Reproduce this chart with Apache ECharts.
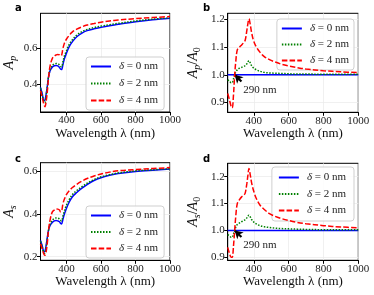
<!DOCTYPE html>
<html><head><meta charset="utf-8">
<script src="https://cdn.jsdelivr.net/npm/echarts@6/dist/echarts.min.js"></script>
<style>html,body{margin:0;padding:0;background:#fff}#c{width:374px;height:295px}</style>
</head><body><div id="c"></div>
<script>
const wavelength = [250,260,270,276,283,290,296,305,318,330,340,350,360,366,372,380,388,400,415,435,460,490,520,560,600,650,700,800,900,1000];
const deltaLabels = ['0','2','4'];
const xTicks = [400,600,800,1000];

// panel a: A_p
const apD0 = [0.385,0.35,0.312,0.315,0.35,0.394,0.44,0.475,0.495,0.503,0.505,0.502,0.494,0.485,0.482,0.51,0.54,0.57,0.605,0.635,0.662,0.682,0.695,0.705,0.713,0.722,0.73,0.744,0.755,0.763];
const apD2 = [0.38,0.345,0.305,0.302,0.34,0.39,0.44,0.48,0.505,0.513,0.515,0.514,0.508,0.5,0.497,0.525,0.555,0.585,0.618,0.646,0.671,0.69,0.702,0.712,0.72,0.728,0.735,0.748,0.758,0.765];
const apD4 = [0.367,0.33,0.29,0.279,0.31,0.367,0.43,0.5,0.542,0.556,0.562,0.565,0.563,0.557,0.56,0.598,0.625,0.648,0.668,0.688,0.703,0.716,0.726,0.734,0.741,0.748,0.753,0.761,0.767,0.772];
// panel b: A_p/A_0
const rpD0 = [1,1,1,1,1,1,1,1,1,1,1,1,1,1,1,1,1,1,1,1,1,1,1,1,1,1,1,1,1,1];
const rpD2 = [0.982,0.978,0.972,0.972,0.985,1.0,1.01,1.018,1.024,1.027,1.03,1.033,1.04,1.047,1.051,1.043,1.032,1.024,1.018,1.013,1.009,1.007,1.006,1.005,1.004,1.003,1.003,1.002,1.002,1.002];
const rpD4 = [0.933,0.91,0.886,0.881,0.925,1.0,1.045,1.09,1.1,1.108,1.115,1.124,1.16,1.185,1.202,1.18,1.15,1.12,1.1,1.082,1.066,1.055,1.047,1.038,1.032,1.026,1.021,1.015,1.011,1.008];
// panel c: A_s
const asD0 = [0.276,0.25,0.223,0.225,0.255,0.292,0.322,0.345,0.36,0.367,0.369,0.367,0.363,0.356,0.353,0.375,0.398,0.425,0.453,0.48,0.5,0.52,0.537,0.556,0.569,0.58,0.588,0.598,0.604,0.609];
const asD2 = [0.272,0.245,0.217,0.216,0.245,0.285,0.322,0.35,0.37,0.378,0.381,0.38,0.376,0.37,0.367,0.39,0.412,0.44,0.465,0.49,0.509,0.527,0.543,0.56,0.573,0.583,0.591,0.601,0.606,0.611];
const asD4 = [0.26,0.235,0.212,0.207,0.225,0.268,0.32,0.37,0.408,0.418,0.423,0.422,0.418,0.41,0.412,0.447,0.468,0.49,0.507,0.523,0.538,0.553,0.565,0.577,0.586,0.595,0.601,0.607,0.612,0.616];
// panel d: A_s/A_0
const rsD0 = [1,1,1,1,1,1,1,1,1,1,1,1,1,1,1,1,1,1,1,1,1,1,1,1,1,1,1,1,1,1];
const rsD2 = [0.985,0.98,0.975,0.975,0.987,1.0,1.012,1.022,1.028,1.033,1.036,1.04,1.047,1.053,1.057,1.05,1.04,1.031,1.024,1.018,1.014,1.011,1.009,1.007,1.006,1.005,1.004,1.003,1.003,1.003];
const rsD4 = [0.937,0.915,0.9,0.9,0.94,1.0,1.05,1.1,1.115,1.125,1.13,1.138,1.175,1.205,1.231,1.205,1.175,1.145,1.118,1.095,1.078,1.063,1.053,1.044,1.037,1.03,1.025,1.018,1.013,1.01];

const yTicksA = [0.4,0.6], yTicksB = [0.9,1.0,1.1,1.2], yTicksC = [0.2,0.4,0.6], yTicksD = [0.9,1.0,1.1,1.2];
const annotPoint = [290, 1.0];
const annotTail = [329, 0.976];
const annotText = [339, 0.944];
const annotLabel = '290 nm';

const F = 'Liberation Serif';
const colors = ['#0000ff', '#008000', '#ff0000'];
const dashes = ['solid', [1.5, 1.5], [5.5, 2.2]];

const grids = [
  {left: 39.3, top: 13.3, width: 130.7, height: 98.7},
  {left: 227.7, top: 13.3, width: 130.6, height: 99},
  {left: 39.3, top: 162.7, width: 130.7, height: 97.6},
  {left: 227.7, top: 163.3, width: 130.6, height: 97}
].map(g => Object.assign(g, {show: true, borderColor: '#000', borderWidth: 1, backgroundColor: 'transparent'}));

const yRanges = [[0.25, 0.79], [0.865, 1.222], [0.183, 0.639], [0.889, 1.25]];
const yTicks = [yTicksA, yTicksB, yTicksC, yTicksD];
const yNames = ['{i|A}{s|p}', '{i|A}{s|p}{n|/}{i|A}{z|0}', '{i|A}{s|s}', '{i|A}{s|s}{n|/}{i|A}{z|0}'];
const yGaps = [22, 25, 22, 25];
const data = [[apD0, apD2, apD4], [rpD0, rpD2, rpD4], [asD0, asD2, asD4], [rsD0, rsD2, rsD4]];

const xAxis = grids.map((g, i) => ({
  type: 'value', gridIndex: i, min: 250, max: 1000,
  name: 'Wavelength λ (nm)', nameLocation: 'middle', nameGap: 13,
  nameTextStyle: {fontFamily: F, fontSize: 13, color: '#111'},
  axisLine: {show: true, onZero: false, lineStyle: {color: '#000', width: 1}},
  axisTick: {show: true, inside: false, length: 3.5, customValues: xTicks, lineStyle: {color: '#000'}},
  axisLabel: {show: true, customValues: xTicks, fontFamily: F, fontSize: 11, color: '#222', margin: 3,
    formatter: v => String(v)},
  splitLine: {show: true, lineStyle: {color: '#ececec', width: 0.8}}
}));
const yAxis = grids.map((g, i) => ({
  type: 'value', gridIndex: i, min: yRanges[i][0], max: yRanges[i][1],
  name: yNames[i], nameLocation: 'middle', nameGap: yGaps[i], nameRotate: 90,
  nameTextStyle: {fontFamily: F, fontSize: 14, color: '#111', rich: {
    i: {fontFamily: F, fontStyle: 'italic', fontSize: 14, color: '#111', lineHeight: 18},
    s: {fontFamily: F, fontStyle: 'italic', fontSize: 10, color: '#111', lineHeight: 18, padding: [7, 0, 0, 0]},
    z: {fontFamily: F, fontSize: 10, color: '#111', lineHeight: 18, padding: [7, 0, 0, 0]},
    n: {fontFamily: F, fontSize: 14, color: '#111', lineHeight: 18}
  }},
  axisLine: {show: true, onZero: false, lineStyle: {color: '#000', width: 1}},
  axisTick: {show: true, inside: false, length: 3.5, customValues: yTicks[i], lineStyle: {color: '#000'}},
  axisLabel: {show: true, customValues: yTicks[i], fontFamily: F, fontSize: 11, color: '#222', margin: 3,
    formatter: v => v.toFixed(1)},
  splitLine: {show: true, lineStyle: {color: '#ececec', width: 0.8}}
}));

const names = deltaLabels.map(d => 'd' + d);
const series = [];
data.forEach((set, p) => {
  set.forEach((arr, k) => {
    const s = {
      type: 'line', name: names[k], xAxisIndex: p, yAxisIndex: p,
      data: wavelength.map((w, j) => [w, arr[j]]),
      symbol: 'none', smooth: 0.35, clip: true,
      lineStyle: {color: colors[k], width: 1.5, type: dashes[k]},
      itemStyle: {color: colors[k]}, z: 3 + k
    };
    if ((p === 1 || p === 3) && k === 0) {
      s.markLine = {
        silent: true, symbol: ['none', 'arrow'], symbolSize: [7, 8], animation: false,
        lineStyle: {color: '#000', width: 2.2, type: 'solid'}, label: {show: false},
        data: [[{coord: annotTail}, {coord: annotPoint}]]
      };
      s.markPoint = {
        silent: true, symbol: 'circle', symbolSize: 0, animation: false,
        itemStyle: {color: 'transparent'},
        label: {show: true, position: 'inside', align: 'left', verticalAlign: 'middle',
          formatter: annotLabel, fontFamily: F, fontSize: 11, color: '#222'},
        data: [{coord: annotText}]
      };
    }
    series.push(s);
  });
});

const legendBase = {
  orient: 'vertical', itemWidth: 20, itemHeight: 10, data: names,
  borderColor: '#cfcfcf', borderWidth: 1, borderRadius: 3, backgroundColor: 'rgba(255,255,255,0.85)',
  selectedMode: false,
  itemStyle: {opacity: 0, borderWidth: 0},
  formatter: n => '{d|δ} = ' + n.slice(1) + ' nm',
  textStyle: {fontFamily: F, fontSize: 11, color: '#222', padding: [0, 0, 0, 3],
    rich: {d: {fontFamily: F, fontStyle: 'italic', fontSize: 11, color: '#222'}}}
};
const legends = [
  Object.assign({}, legendBase, {left: 86, top: 57, itemGap: 6, padding: [4, 6, 4, 4]}),
  Object.assign({}, legendBase, {right: 20, top: 19, itemGap: 5, padding: [4, 5, 4, 4]}),
  Object.assign({}, legendBase, {left: 86, top: 206, itemGap: 5.5, padding: [4, 6, 4, 4]}),
  Object.assign({}, legendBase, {right: 20, top: 167, itemGap: 5.5, padding: [5, 8, 5, 6]})
];

const letters = [['a', 15, 3], ['b', 203, 3], ['c', 15, 154], ['d', 203, 154]];
const graphic = letters.map(l => ({
  type: 'text', left: l[1], top: l[2],
  style: {text: l[0], fontFamily: 'DejaVu Sans', fontWeight: 'bold', fontSize: 10, fill: '#000'}
}));

const chart = echarts.init(document.getElementById('c'), null, {renderer: 'canvas'});
chart.setOption({
  animation: false,
  grid: grids, xAxis: xAxis, yAxis: yAxis, series: series, legend: legends, graphic: graphic
});
</script></body></html>
